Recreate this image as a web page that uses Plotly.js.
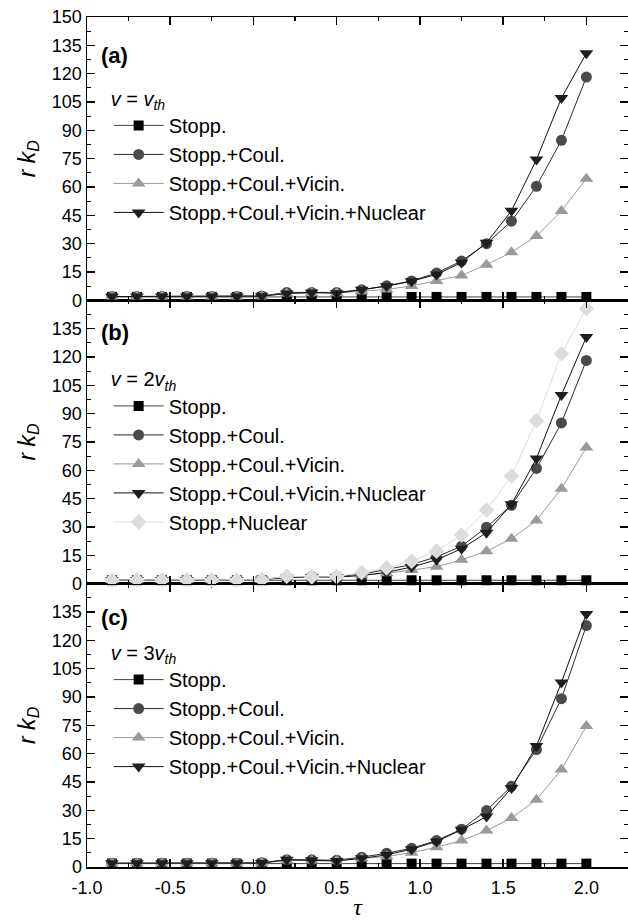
<!DOCTYPE html>
<html>
<head>
<meta charset="utf-8">
<script src="https://cdn.plot.ly/plotly-3.0.1.min.js"></script>
<style>html,body{margin:0;padding:0;background:#fff;}#chart{width:628px;height:923px;}</style>
</head>
<body>
<div id="chart"></div>
<script>
// tau values (x)
const tau = [-0.85,-0.7,-0.55,-0.4,-0.25,-0.1,0.05,0.2,0.35,0.5,0.65,0.8,0.95,1.1,1.25,1.4,1.55,1.7,1.85,2.0];

// Panel (a): v = v_th
const stoppA = [1.8,1.8,1.8,1.8,1.8,1.8,1.8,1.8,1.8,1.8,1.8,1.8,1.8,1.8,1.8,1.8,1.8,1.8,1.8,1.8];
const coulA  = [2.0,2.0,2.0,2.0,2.0,2.0,2.3,4.2,4.2,4.2,5.6,7.7,10.3,14.5,20.8,30.0,41.9,60.4,84.7,118.2];
const vicinA = [2.0,2.0,2.0,2.0,2.0,2.0,2.2,3.6,3.9,3.9,4.8,5.8,7.6,10.2,13.2,18.9,25.4,34.0,47.3,64.4];
const nuclA  = [2.0,2.0,2.0,2.0,2.0,2.0,2.2,3.6,4.2,3.8,5.6,7.5,10.1,13.7,20.0,30.5,47.4,74.5,107.1,130.8];

// Panel (b): v = 2 v_th
const stoppB = [1.8,1.8,1.8,1.8,1.8,1.8,1.8,1.8,1.8,1.8,1.8,1.8,1.8,1.8,1.8,1.8,1.8,1.8,1.8,1.8];
const coulB  = [2.0,2.0,2.0,2.0,2.0,2.0,2.2,3.6,3.8,3.8,5.0,7.4,10.1,14.2,19.8,29.9,41.5,61.0,85.1,118.2];
const vicinB = [2.0,2.0,2.0,2.0,2.0,2.0,2.1,3.2,3.4,3.4,4.5,5.5,7.2,9.0,12.6,17.2,23.8,33.5,50.3,72.1];
const nuclB  = [2.0,2.0,2.0,2.0,2.0,2.0,2.1,3.3,3.5,3.5,4.3,6.0,8.8,12.6,18.5,27.0,42.0,66.3,99.9,130.6];
const stNucB = [2.0,2.0,2.0,2.0,2.0,2.0,2.1,3.9,3.5,3.7,5.9,8.3,11.9,17.2,25.8,39.0,57.0,86.3,121.7,145.7];

// Panel (c): v = 3 v_th
const stoppC = [1.8,1.8,1.8,1.8,1.8,1.8,1.8,1.8,1.8,1.8,1.8,1.8,1.8,1.8,1.8,1.8,1.8,1.8,1.8,1.8];
const coulC  = [2.0,2.0,2.0,2.0,2.0,2.0,2.2,3.9,3.8,3.6,5.2,7.3,9.9,14.0,20.0,29.9,42.7,62.2,89.1,127.8];
const vicinC = [2.0,2.0,2.0,2.0,2.0,2.0,2.1,3.5,3.5,3.3,4.5,5.5,7.6,10.5,14.0,19.3,25.9,35.6,51.6,74.6];
const nuclC  = [2.0,2.0,2.0,2.0,2.0,2.0,2.1,3.8,3.6,3.2,4.6,6.4,9.4,13.5,19.7,26.7,41.8,64.0,97.7,134.0];

const names = ['Stopp.','Stopp.+Coul.','Stopp.+Coul.+Vicin.','Stopp.+Coul.+Vicin.+Nuclear','Stopp.+Nuclear'];
const xTicks = [-1.0,-0.5,0.0,0.5,1.0,1.5,2.0];
const xTickText = ['-1.0','-0.5','0.0','0.5','1.0','1.5','2.0'];

const styles = [
  {symbol:'square', mcolor:'#000000', lcolor:'#444444', size:10},
  {symbol:'circle', mcolor:'#4a4a4a', lcolor:'#2a2a2a', size:11},
  {symbol:'triangle-up', mcolor:'#9a9a9a', lcolor:'#9a9a9a', size:12},
  {symbol:'triangle-down', mcolor:'#1e1e1e', lcolor:'#111111', size:12},
  {symbol:'diamond', mcolor:'#dcdcdc', lcolor:'#dcdcdc', size:12}
];

function tr(y, idx, xa, ya, leg){
  const s = styles[idx];
  return {x: tau, y: y, name: names[idx], type:'scatter', mode:'lines+markers',
    xaxis: xa, yaxis: ya, legend: leg, cliponaxis:false,
    line:{color:s.lcolor, width:1},
    marker:{symbol:s.symbol, color:s.mcolor, size:s.size, line:{width:0}}};
}

const data = [
  tr(stoppA,0,'x3','y3','legend'), tr(coulA,1,'x3','y3','legend'), tr(vicinA,2,'x3','y3','legend'), tr(nuclA,3,'x3','y3','legend'),
  tr(stoppB,0,'x2','y2','legend2'), tr(coulB,1,'x2','y2','legend2'), tr(vicinB,2,'x2','y2','legend2'), tr(nuclB,3,'x2','y2','legend2'), tr(stNucB,4,'x2','y2','legend2'),
  tr(stoppC,0,'x','y','legend3'), tr(coulC,1,'x','y','legend3'), tr(vicinC,2,'x','y','legend3'), tr(nuclC,3,'x','y','legend3')
];

const FONT = 'Arial, "Liberation Sans", sans-serif';

function xax(anchor, labels){
  const a = {anchor: anchor, range:[-1.0, 2.25], domain:[0,1], showgrid:false, zeroline:false,
    showline:true, linecolor:'#000', linewidth:1.5, mirror:'allticks',
    ticks:'inside', ticklen:8, tickwidth:1.5, tickcolor:'#000',
    tickmode:'array', tickvals:xTicks, ticktext:xTickText,
    minor:{ticks:'inside', ticklen:4, tickwidth:1.2, tickcolor:'#000', tickmode:'linear', tick0:-1, dtick:0.25},
    showticklabels: labels, ticklabelstandoff: 4, tickfont:{family:FONT, size:18, color:'#000'}};
  if (anchor !== 'y') a.matches = 'x';
  return a;
}
function yax(anchor, dom, hideTop){
  return {anchor: anchor, domain: dom, range:[0,150], showgrid:false, zeroline:false,
    showline:true, linecolor:'#000', linewidth:1.5, mirror:'allticks',
    ticks:'inside', ticklen:8, tickwidth:1.5, tickcolor:'#000',
    tickmode:'linear', tick0:0, dtick:15,
    labelalias: hideTop ? {'150':' '} : {},
    minor:{ticks:'inside', ticklen:4, tickwidth:1.2, tickcolor:'#000', tickmode:'linear', tick0:0, dtick:7.5},
    tickfont:{family:FONT, size:18, color:'#000'},
    title:{text:'<i>r k</i><sub><i>D</i></sub>', font:{family:FONT, size:23, color:'#000'}, standoff:10}};
}

function leg(y, title){
  return {x:0.04, y:y, xanchor:'left', yanchor:'top', bgcolor:'rgba(0,0,0,0)', borderwidth:0,
    font:{family:FONT, size:20, color:'#000'}, itemwidth:50, traceorder:'normal',
    title:{text:title, font:{family:FONT, size:20, color:'#000'}}};
}

const layout = {
  width:628, height:923, paper_bgcolor:'#fff', plot_bgcolor:'rgba(0,0,0,0)',
  margin:{l:87, r:0, t:17, b:56},
  showlegend:true,
  xaxis: Object.assign(xax('y', true), {title:{text:'<i>τ</i>', font:{family:'"Times New Roman","Liberation Serif",serif', size:24, color:'#000'}, standoff:1}}),
  xaxis2: xax('y2', false),
  xaxis3: xax('y3', false),
  yaxis: yax('x', [0, 1/3], true),
  yaxis2: yax('x2', [1/3, 2/3], true),
  yaxis3: yax('x3', [2/3, 1], false),
  legend: leg(0.926, '<i>v</i> = <i>v</i><sub><i>th</i></sub>'),
  legend2: leg(0.596, '<i>v</i> = 2<i>v</i><sub><i>th</i></sub>'),
  legend3: leg(0.274, '<i>v</i> = 3<i>v</i><sub><i>th</i></sub>'),
  annotations: [
    {text:'<b>(a)</b>', xref:'paper', yref:'paper', x:0.022, y:0.955, xanchor:'left', yanchor:'middle', showarrow:false, font:{family:FONT, size:22, color:'#000'}},
    {text:'<b>(b)</b>', xref:'paper', yref:'paper', x:0.022, y:0.629, xanchor:'left', yanchor:'middle', showarrow:false, font:{family:FONT, size:22, color:'#000'}},
    {text:'<b>(c)</b>', xref:'paper', yref:'paper', x:0.022, y:0.293, xanchor:'left', yanchor:'middle', showarrow:false, font:{family:FONT, size:22, color:'#000'}}
  ]
};

Plotly.newPlot('chart', data, layout, {staticPlot:true, displayModeBar:false});
</script>
</body>
</html>
